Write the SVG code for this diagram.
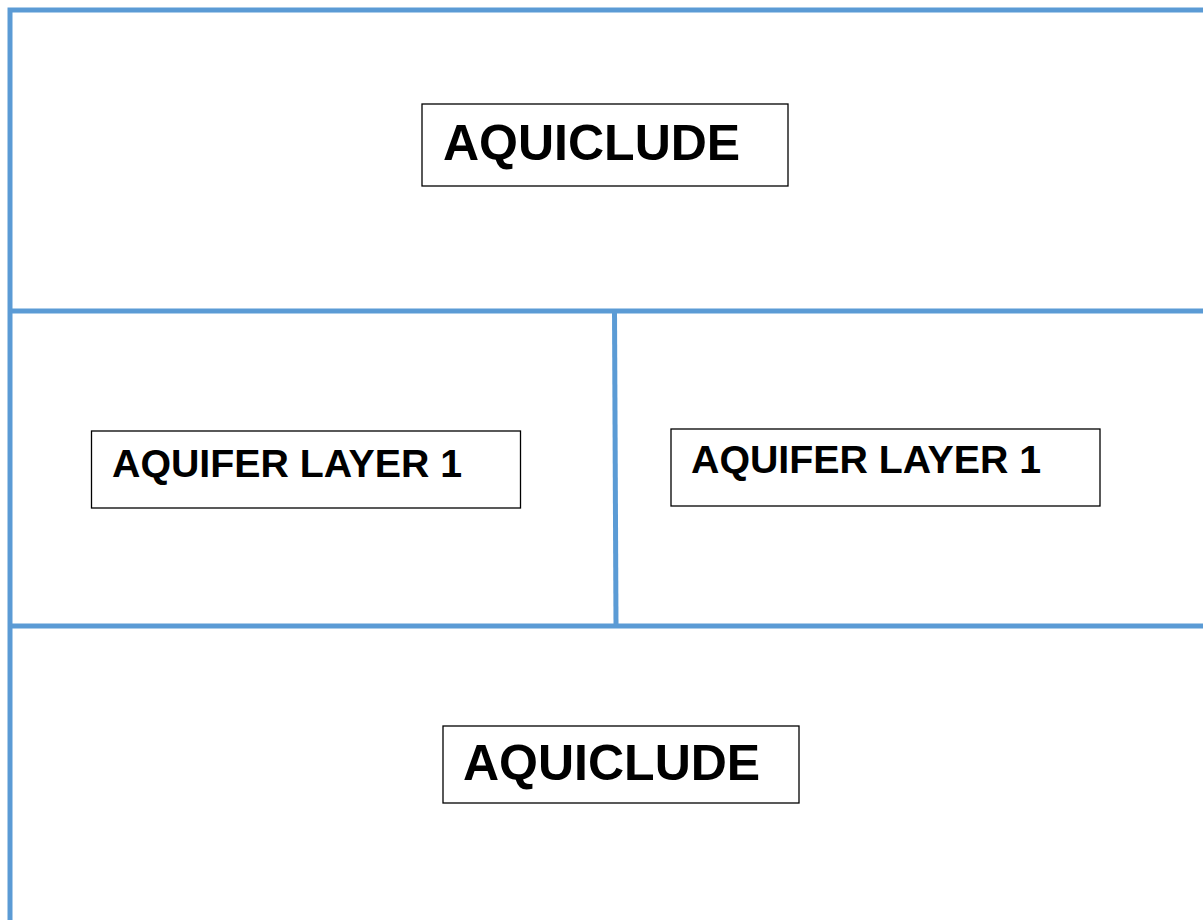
<svg xmlns="http://www.w3.org/2000/svg" width="1203" height="920" viewBox="0 0 1203 920">
<style>
.ln{stroke:#5B9BD5;stroke-width:5;fill:none}
.bx{fill:#fff;stroke:#000;stroke-width:1.3}
.t{font-family:"Liberation Sans",Arial,sans-serif;font-weight:bold;fill:#000}
</style>
<rect width="1203" height="920" fill="#fff"/>
<g id="connectors">
<path class="ln" d="M10,920 V10 H1203"/>
<path class="ln" d="M10,311 H1203"/>
<path class="ln" d="M10,626 H1203"/>
<path class="ln" d="M614.5,311 L616,626"/>
</g>
<g id="aquiclude-top">
<rect class="bx" x="422" y="104" width="366" height="82"/>
<text class="t" x="443" y="160" font-size="50">AQUICLUDE</text>
</g>
<g id="aquifer-left">
<rect class="bx" x="91.5" y="431" width="429" height="77"/>
<text class="t" x="112" y="477" font-size="39.3">AQUIFER LAYER 1</text>
</g>
<g id="aquifer-right">
<rect class="bx" x="671" y="429" width="429" height="77"/>
<text class="t" x="691" y="473" font-size="39.3">AQUIFER LAYER 1</text>
</g>
<g id="aquiclude-bottom">
<rect class="bx" x="443" y="726" width="356" height="77"/>
<text class="t" x="463" y="780" font-size="50">AQUICLUDE</text>
</g>
</svg>
